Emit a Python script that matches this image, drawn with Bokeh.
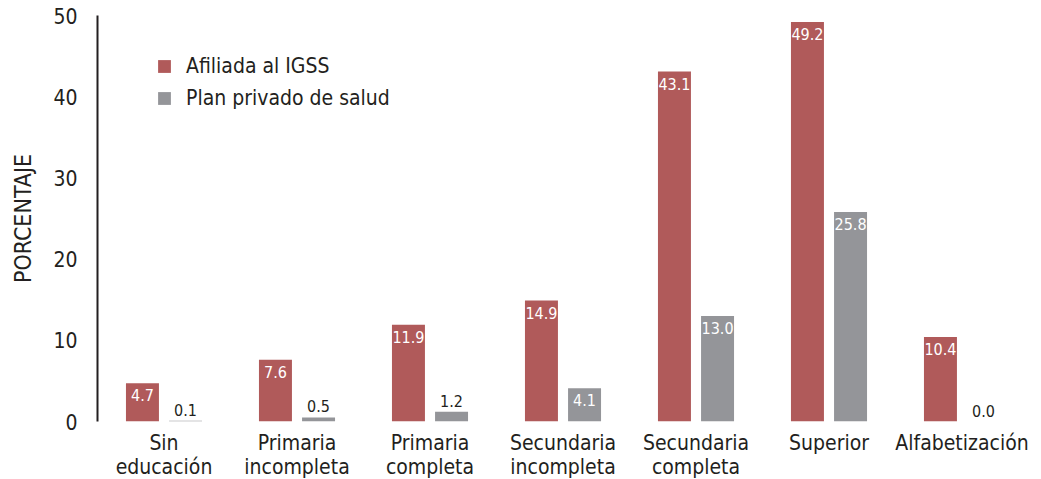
from bokeh.plotting import figure
from bokeh.models import ColumnDataSource, FactorRange, Range1d, SingleIntervalTicker, Legend, LegendItem
from bokeh.transform import dodge
from bokeh.core.properties import value
from bokeh.embed import file_html
from bokeh.resources import INLINE

categories = ["Sin\neducación", "Primaria\nincompleta", "Primaria\ncompleta",
              "Secundaria\nincompleta", "Secundaria\ncompleta", "Superior", "Alfabetización"]
igss = [4.7, 7.6, 11.9, 14.9, 43.1, 49.2, 10.4]
privado = [0.1, 0.5, 1.2, 4.1, 13.0, 25.8, 0.0]
series_names = ["Afiliada al IGSS", "Plan privado de salud"]

FONT = "'DejaVu Sans Condensed', 'Liberation Sans Narrow', 'Roboto', sans-serif"
RED = "#b05a5a"
GRAY = "#949599"
DARK = "#231f20"

def fmt(v):
    return f"{v:.1f}"

src = ColumnDataSource(dict(
    cat=categories, igss=igss, privado=privado,
    igss_lbl=[fmt(v) for v in igss], priv_lbl=[fmt(v) for v in privado],
))

p = figure(x_range=FactorRange(*categories), y_range=Range1d(0, 50),
           frame_width=931, frame_height=406, output_backend="svg", toolbar_location=None,
           min_border_left=97, min_border_right=13, min_border_top=15, min_border_bottom=58)
p.outline_line_color = None
p.xgrid.grid_line_color = None
p.ygrid.grid_line_color = None

OFF = 0.162
W = 0.248
r1 = p.vbar(x=dodge("cat", -OFF, range=p.x_range), top="igss", width=W, source=src,
            fill_color=RED, line_color=None)
r2 = p.vbar(x=dodge("cat", OFF, range=p.x_range), top="privado", width=W, source=src,
            fill_color=GRAY, line_color=None)

def split(vals):
    inside = [i for i, v in enumerate(vals) if v >= 3]
    outside = [i for i, v in enumerate(vals) if v < 3]
    return inside, outside

for key, lbl, off in [("igss", "igss_lbl", -OFF), ("privado", "priv_lbl", OFF)]:
    vals = src.data[key]
    inside, outside = split(vals)
    s_in = ColumnDataSource(dict(cat=[categories[i] for i in inside],
                                 y=[vals[i] for i in inside],
                                 t=[src.data[lbl][i] for i in inside]))
    s_out = ColumnDataSource(dict(cat=[categories[i] for i in outside],
                                  y=[vals[i] for i in outside],
                                  t=[src.data[lbl][i] for i in outside]))
    p.text(x=dodge("cat", off, range=p.x_range), y="y", text="t", source=s_in,
           text_color="white", text_font=value(FONT), text_font_size="16px",
           text_align="center", text_baseline="top", y_offset=6)
    p.text(x=dodge("cat", off, range=p.x_range), y="y", text="t", source=s_out,
           text_color=DARK, text_font=value(FONT), text_font_size="16px",
           text_align="center", text_baseline="bottom", y_offset=-5)

p.yaxis.ticker = SingleIntervalTicker(interval=10, num_minor_ticks=0)
p.yaxis.axis_line_color = DARK
p.yaxis.axis_line_width = 2
p.yaxis.major_tick_line_color = None
p.yaxis.minor_tick_line_color = None
p.yaxis.major_label_text_font = FONT
p.yaxis.major_label_text_font_size = "21px"
p.yaxis.major_label_text_color = DARK
p.yaxis.major_label_standoff = 14
p.yaxis.axis_label = "PORCENTAJE"
p.yaxis.axis_label_text_font = FONT
p.yaxis.axis_label_text_font_size = "23px"
p.yaxis.axis_label_text_font_style = "normal"
p.yaxis.axis_label_text_color = DARK
p.yaxis.axis_label_standoff = 14

p.xaxis.axis_line_color = None
p.xaxis.major_tick_line_color = None
p.xaxis.minor_tick_line_color = None
p.xaxis.major_label_text_font = FONT
p.xaxis.major_label_text_font_size = "21px"
p.xaxis.major_label_text_color = DARK
p.xaxis.major_label_text_line_height = 1.0
p.xaxis.major_label_standoff = 3
p.x_range.range_padding = 0
p.x_range.group_padding = 0

legend = Legend(items=[LegendItem(label=series_names[0], renderers=[r1]),
                       LegendItem(label=series_names[1], renderers=[r2])],
                location=(59, 311), orientation="vertical",
                border_line_color=None, background_fill_alpha=0,
                padding=0, margin=0, spacing=8,
                glyph_width=16, glyph_height=16, label_height=16,
                label_standoff=14, label_text_font=FONT,
                label_text_font_size="21px", label_text_color=DARK)
p.add_layout(legend, "center")

open("out.html", "w").write(file_html(p, INLINE))
